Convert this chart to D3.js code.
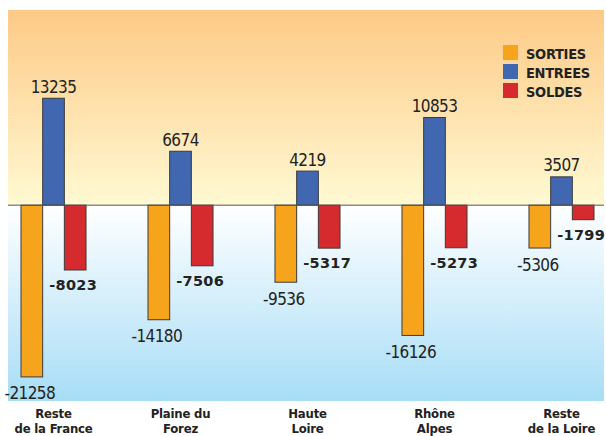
<!DOCTYPE html>
<html>
<head>
<meta charset="utf-8">
<script src="https://cdn.jsdelivr.net/npm/d3@7"></script>
<style>
  body { margin: 0; background: #fff; }
  svg { display: block; }
  .narrow { font-family: "DejaVu Sans Condensed", "Liberation Sans Narrow", sans-serif; font-stretch: condensed; }
</style>
</head>
<body>
<div id="chart"></div>
<script>
// flux par zone
const categories = [["Reste", "de la France"], ["Plaine du", "Forez"], ["Haute", "Loire"], ["Rhône", "Alpes"], ["Reste", "de la Loire"]];
const series = ["SORTIES", "ENTREES", "SOLDES"];
const sorties = [-21258, -14180, -9536, -16126, -5306];
const entrees = [13235, 6674, 4219, 10853, 3507];
const soldes = [-8023, -7506, -5317, -5273, -1799];
const colors = ["#F7A41D", "#4267B1", "#D52B2E"];

const W = 606, H = 436;
const plot = { left: 8, right: 604, top: 10, bottom: 401 };

const svg = d3.select("#chart").append("svg")
  .attr("width", W)
  .attr("height", H);

const defs = svg.append("defs");
const gTop = defs.append("linearGradient").attr("id", "gtop").attr("x1", 0).attr("x2", 0).attr("y1", 0).attr("y2", 1);
gTop.append("stop").attr("offset", "0%").attr("stop-color", "#FDCA87");
gTop.append("stop").attr("offset", "100%").attr("stop-color", "#FFF9D2");
const gBot = defs.append("linearGradient").attr("id", "gbot").attr("x1", 0).attr("x2", 0).attr("y1", 0).attr("y2", 1);
gBot.append("stop").attr("offset", "0%").attr("stop-color", "#FFFFFF");
gBot.append("stop").attr("offset", "100%").attr("stop-color", "#A7DDF6");

const y = d3.scaleLinear()
  .domain([-24240, 24160])
  .range([plot.bottom, plot.top]);

const x = d3.scaleBand()
  .domain(d3.range(categories.length))
  .range([21, 594])
  .paddingInner(0.488)
  .paddingOuter(0);

const xs = d3.scaleBand()
  .domain(series)
  .range([0, x.bandwidth()]);

// fond
svg.append("rect")
  .attr("x", plot.left).attr("y", plot.top)
  .attr("width", plot.right - plot.left).attr("height", y(0) - plot.top)
  .attr("fill", "url(#gtop)");
svg.append("rect")
  .attr("x", plot.left).attr("y", y(0))
  .attr("width", plot.right - plot.left).attr("height", plot.bottom - y(0))
  .attr("fill", "url(#gbot)");

const rows = categories.map((c, i) => ({ i, values: [sorties[i], entrees[i], soldes[i]] }));

const groups = svg.selectAll("g.grp")
  .data(rows)
  .join("g")
  .attr("class", "grp")
  .attr("transform", d => `translate(${x(d.i)},0)`);

groups.selectAll("rect")
  .data(d => d.values.map((v, k) => ({ v, k })))
  .join("rect")
  .attr("x", d => xs(series[d.k]))
  .attr("y", d => y(Math.max(0, d.v)))
  .attr("width", xs.bandwidth())
  .attr("height", d => Math.abs(y(d.v) - y(0)))
  .attr("fill", d => colors[d.k])
  .attr("stroke", "#3a3a3a")
  .attr("stroke-width", 1);

// ligne zéro
svg.append("line")
  .attr("x1", plot.left).attr("x2", plot.right)
  .attr("y1", y(0)).attr("y2", y(0))
  .attr("stroke", "#555")
  .attr("stroke-width", 1);

// étiquettes
groups.selectAll("text.val")
  .data(d => d.values.map((v, k) => ({ v, k })))
  .join("text")
  .attr("class", d => d.k === 2 ? "val" : "val narrow")
  .attr("x", d => xs(series[d.k]) + xs.bandwidth() / 2 - (d.k === 1 ? 0 : 2))
  .attr("y", d => d.k === 1 ? y(d.v) - 5.5 : y(d.v) + (d.k === 0 ? 22.5 : 20))
  .attr("text-anchor", "middle")
  .attr("fill", "#222")
  .style("font-family", d => d.k === 2 ? "'DejaVu Sans', sans-serif" : null)
  .style("font-weight", d => d.k === 2 ? "bold" : "normal")
  .style("font-size", d => d.k === 2 ? "14.5px" : "17px")
  .style("letter-spacing", d => d.k === 2 ? "0.3px" : "-0.6px")
  .text(d => d.v);

// catégories, une ligne par texte
const catLines = categories.flatMap((c, i) => c.map((t, j) => ({ i, j, t })));
svg.selectAll("text.cat")
  .data(catLines)
  .join("text")
  .attr("class", "cat narrow")
  .attr("x", d => x(d.i) + x.bandwidth() / 2)
  .attr("y", d => 418 + d.j * 14.5)
  .attr("text-anchor", "middle")
  .attr("fill", "#222")
  .style("font-weight", "bold")
  .style("font-size", "13px")
  .style("letter-spacing", "-0.2px")
  .text(d => d.t);

// légende
const leg = svg.append("g").attr("transform", "translate(503,45)");
const li = leg.selectAll("g")
  .data(series)
  .join("g")
  .attr("transform", (d, k) => `translate(0,${k * 19})`);
li.append("rect")
  .attr("width", 15).attr("height", 15)
  .attr("fill", (d, k) => colors[k]);
li.append("text")
  .attr("class", "narrow")
  .attr("x", 23).attr("y", 13.5)
  .attr("fill", "#222")
  .style("font-weight", "bold")
  .style("font-size", "14.5px")
  .style("letter-spacing", "-0.3px")
  .text(d => d);
</script>
</body>
</html>
